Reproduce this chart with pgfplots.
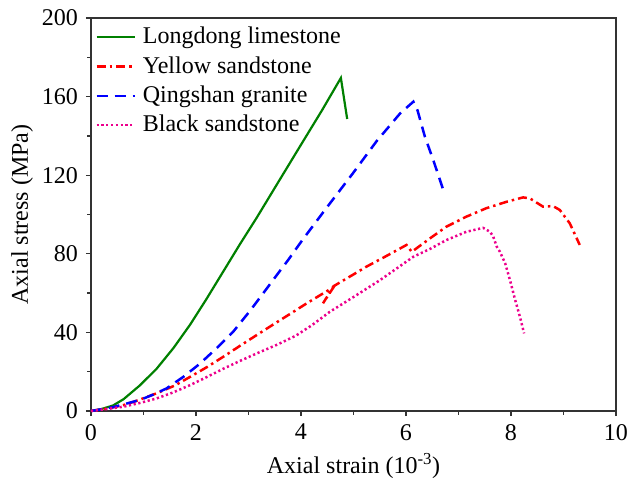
\documentclass[border=0pt]{standalone}
\usepackage{fontspec}
\setmainfont{Liberation Serif}
\usepackage{pgfplots}
\pgfplotsset{compat=1.18}
\definecolor{lgreen}{RGB}{0,128,0}

\begin{document}
\fontsize{24bp}{28bp}\selectfont
\begin{tikzpicture}
\begin{axis}[
  scale only axis, width=525bp, height=393bp,
  xmin=0, xmax=10, ymin=0, ymax=200,
  xtick={0,2,...,10}, ytick={0,40,...,200},
  minor xtick={1,3,5,7,9}, minor ytick={20,60,100,140,180},
  tick pos=left, tick align=outside,
  major tick length=5bp, minor tick length=3.5bp,
  axis line style={line width=1.3bp, black!80},
  major tick style={line width=1.3bp, black!80},
  minor tick style={line width=1.3bp, black!80},
  /pgf/number format/assume math mode=true,
  ticklabel style={font=\fontsize{24bp}{28bp}\selectfont},
  xlabel={Axial strain (10\textsuperscript{-3})},
  ylabel={Axial stress (MPa)},
  label style={font=\fontsize{24bp}{28bp}\selectfont},
  xlabel style={at={(rel axis cs:0.5,-0.14)}, anchor=center},
  ylabel style={at={(rel axis cs:-0.131,0.5)}, anchor=center},
  legend style={at={(rel axis cs:0.008,0.982)}, anchor=north west, draw=none, fill=none,
    font=\fontsize{24bp}{28bp}\selectfont, row sep=5bp, inner sep=0pt,
    nodes={inner sep=2bp}},
  legend cell align=left,
  legend image code/.code={\draw[#1] (0bp,0bp) -- (38bp,0bp); \path (43bp,0bp);},
  clip=false,
]
\addplot[lgreen, line width=2.2bp] coordinates {
(0,0) (0.2,1) (0.42,2.8) (0.62,6) (0.93,13) (1.25,21.5) (1.57,32) (1.89,44) (2.2,57)
(2.52,71) (2.84,85) (3.16,98.5) (3.5,113.5) (4.0,135.5) (4.4,153) (4.76,169.5) (4.88,148.6)
};
\addlegendentry{Longdong limestone}
\addplot[red, line width=2.5bp, dash pattern=on 9bp off 4bp on 2.5bp off 4bp] coordinates {
(0,0) (0.3,1.2) (0.62,3) (0.9,5.5) (1.25,9) (1.6,13) (1.89,17.4) (2.2,22.2) (2.52,27.6) (2.84,33.2)
(3.16,38.7) (3.5,44.5) (3.78,49.2) (4.11,54.8) (4.4,59.5) (4.62,63) (4.42,54.8) (4.62,63.5)
(5.0,69.5) (5.25,73.5) (5.6,78.5) (6.01,84.5) (6.11,81)
(6.46,87.9) (6.77,93.8) (7.15,98.9) (7.53,103.2) (7.92,106.5) (8.23,108.7) (8.36,108.2)
(8.61,104) (8.80,104.3) (8.93,102.3) (9.12,95.5) (9.31,84.5)
};
\addlegendentry{Yellow sandstone}
\addplot[blue, line width=2.5bp, dash pattern=on 11bp off 7bp] coordinates {
(0,0) (0.4,1.8) (0.93,5.6) (1.2,8.5) (1.44,11.5) (1.76,17.4) (2.08,24.2) (2.39,31.9) (2.71,40.4)
(3.03,51) (3.28,59.9) (3.54,69.2) (3.76,77) (4.04,87.5) (4.49,103.5) (4.99,121) (5.44,137.3)
(5.89,151.5) (6.14,157.4) (6.22,153) (6.36,139.6) (6.52,127.7) (6.71,112.5)
};
\addlegendentry{Qingshan granite}
\addplot[magenta, line width=2.5bp, dash pattern=on 2.2bp off 2.6bp] coordinates {
(0,0) (0.3,1) (0.62,2.2) (0.95,4.2) (1.25,6.4) (1.57,9.5) (1.89,13.2) (2.2,17.2) (2.52,21.5)
(2.84,25.5) (3.2,29.8) (3.55,33.8) (3.9,38.3) (4.2,43.5) (4.55,50.5) (5.0,58) (5.5,66.5) (6.14,78.5)
(6.46,82.5) (6.77,87) (7.15,91.2) (7.47,93.2)
(7.6,91.2) (7.66,88.9) (7.73,83.6) (7.79,81) (7.89,75.1) (7.98,66.7) (8.08,56.5) (8.17,48) (8.25,39.5)
};
\addlegendentry{Black sandstone}
\coordinate (bl) at (rel axis cs:-0.1733,-0.178);
\coordinate (tr) at (rel axis cs:1.0229,1.0458);
\end{axis}
\pgfresetboundingbox
\path[use as bounding box] (bl) rectangle (tr);
\end{tikzpicture}
\end{document}
